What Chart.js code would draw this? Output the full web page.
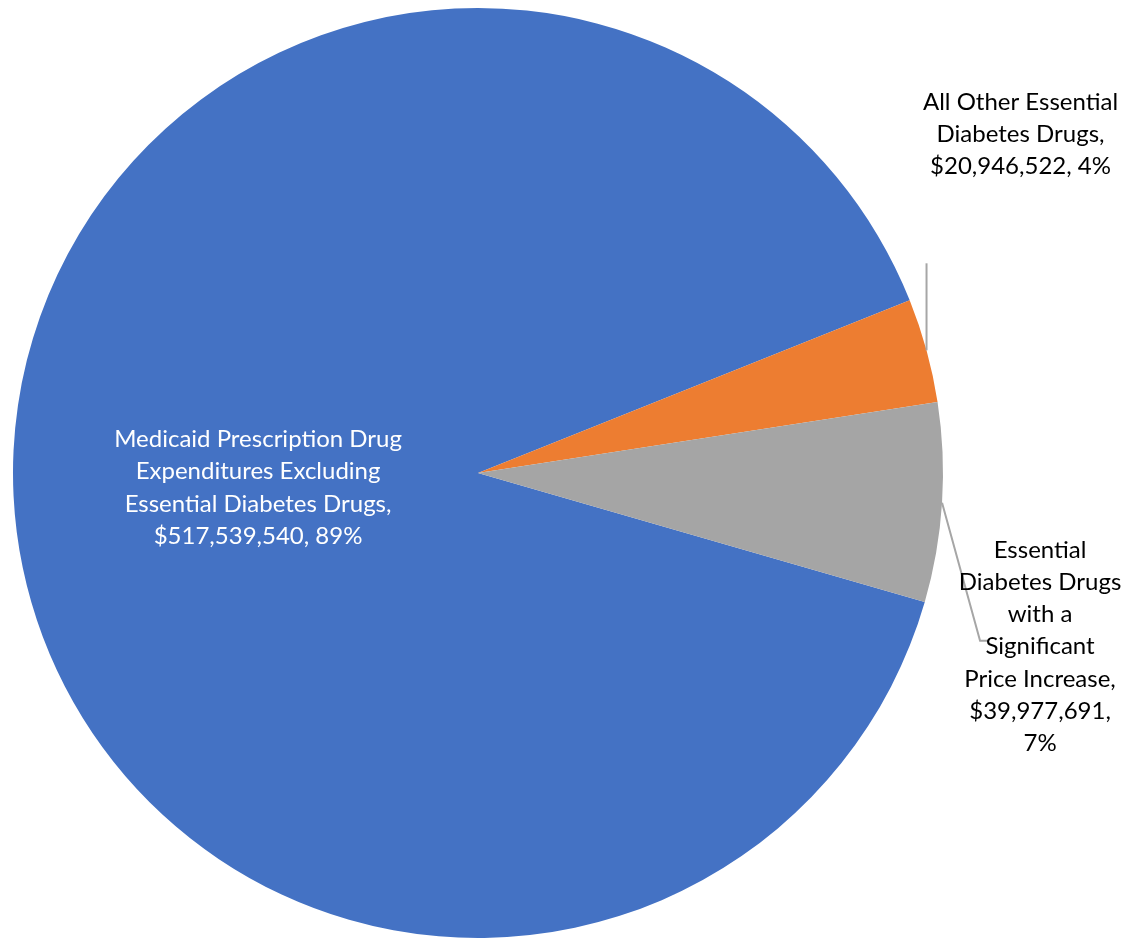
<!DOCTYPE html>
<html>
<head>
<meta charset="utf-8">
<script src="https://cdn.jsdelivr.net/npm/chart.js@4/dist/chart.umd.min.js"></script>
<style>
  html, body { margin: 0; padding: 0; background: #ffffff; }
  #wrap { width: 1140px; height: 939px; position: relative; }
</style>
</head>
<body>
<div id="wrap"><canvas id="pie" width="1140" height="939"></canvas></div>
<script>
// Slice categories (wrapped the way they are printed on the chart)
const categories = [
  "Medicaid Prescription Drug Expenditures Excluding Essential Diabetes Drugs",
  "All Other Essential Diabetes Drugs",
  "Essential Diabetes Drugs with a Significant Price Increase"
];
const categoryLines = [
  ["Medicaid Prescription Drug", "Expenditures Excluding", "Essential Diabetes Drugs,"],
  ["All Other Essential", "Diabetes Drugs,"],
  ["Essential", "Diabetes Drugs", "with a", "Significant", "Price Increase,"]
];
// Expenditure per category, in dollars
const expenditures = [517539540, 20946522, 39977691];
const sliceColors = ["#4472C4", "#ED7D31", "#A5A5A5"];
// Whether the amount and the percentage go on separate lines
const splitValueLine = [false, false, true];

const total = expenditures.reduce((a, b) => a + b, 0);
const money = v => "$" + v.toLocaleString("en-US");

function labelFor(i) {
  const pct = Math.round(expenditures[i] / total * 100) + "%";
  const lines = categoryLines[i].slice();
  if (splitValueLine[i]) { lines.push(money(expenditures[i]) + ","); lines.push(pct); }
  else lines.push(money(expenditures[i]) + ", " + pct);
  return lines;
}

const FONT = '24px Lato, "Open Sans", sans-serif';
const LINE_H = 32.3;

// Data labels: inside label for the large slice, callouts with leader lines for the small ones
const sliceLabels = {
  id: "sliceLabels",
  afterDatasetsDraw(chart) {
    const ctx = chart.ctx;
    const arcs = chart.getDatasetMeta(0).data;
    ctx.save();
    ctx.font = FONT;
    ctx.textAlign = "center";
    ctx.textBaseline = "middle";

    const drawBlock = (lines, cx, cy, color) => {
      ctx.fillStyle = color;
      const top = cy - (lines.length - 1) * LINE_H / 2;
      lines.forEach((t, k) => ctx.fillText(t, cx, top + k * LINE_H));
    };

    arcs.forEach((arc, i) => {
      const p = arc.getProps(["x", "y", "startAngle", "endAngle", "outerRadius"], true);
      const mid = (p.startAngle + p.endAngle) / 2;
      const R = p.outerRadius;
      const ex = p.x + Math.cos(mid) * R;
      const ey = p.y + Math.sin(mid) * R;
      const lines = labelFor(i);

      if (i === 0) {
        drawBlock(lines, p.x - R * 0.473, p.y + R * 0.032, "#ffffff");
      } else if (i === 1) {
        ctx.strokeStyle = "#A6A6A6";
        ctx.lineWidth = 2;
        ctx.beginPath();
        ctx.moveTo(ex, ey);
        ctx.lineTo(ex, ey - 87);
        ctx.stroke();
        drawBlock(lines, ex + 94, ey - 216, "#000000");
      } else {
        ctx.strokeStyle = "#A6A6A6";
        ctx.lineWidth = 2;
        ctx.beginPath();
        ctx.moveTo(ex, ey);
        ctx.lineTo(ex + 38, ey + 138);
        ctx.lineTo(ex + 46, ey + 138);
        ctx.stroke();
        drawBlock(lines, ex + 98, ey + 144, "#000000");
      }
    });
    ctx.restore();
  }
};

new Chart(document.getElementById("pie"), {
  type: "pie",
  data: {
    labels: categories,
    datasets: [{
      data: expenditures,
      backgroundColor: sliceColors,
      borderWidth: 0
    }]
  },
  options: {
    responsive: false,
    animation: false,
    rotation: 106.1,
    layout: { padding: { left: 13, right: 197, top: 8, bottom: 1 } },
    plugins: {
      legend: { display: false },
      tooltip: { enabled: false }
    }
  },
  plugins: [sliceLabels]
});
</script>
</body>
</html>
